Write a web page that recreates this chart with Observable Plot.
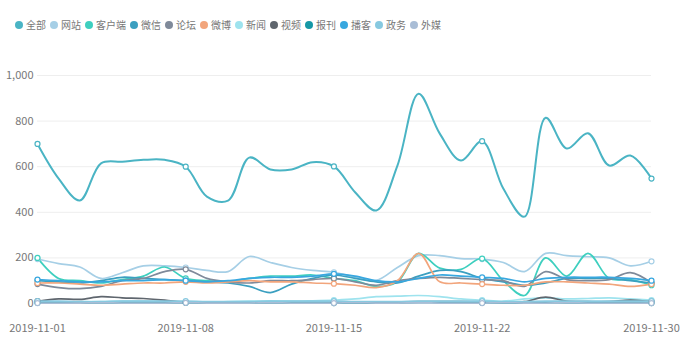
<!DOCTYPE html>
<html>
<head>
<meta charset="utf-8">
<script src="https://cdn.jsdelivr.net/npm/d3@7"></script>
<script src="https://cdn.jsdelivr.net/npm/@observablehq/plot@0.6"></script>
<style>
  body { margin: 0; background: #fff; width: 692px; height: 356px; overflow: hidden; }
  #legend { height: 35px; box-sizing: border-box; padding: 14px 0 0 15px; display: flex; font-family: "Noto Sans CJK SC", sans-serif; font-size: 10px; color: #777; line-height: 10px; }
  #legend .item { display: flex; align-items: center; margin-right: 4px; }
  #legend .sw { width: 8px; height: 8px; border-radius: 50%; margin-right: 3px; }
</style>
</head>
<body>
<div id="legend"></div>
<div id="chart"></div>
<script>
const dates = ["2019-11-01","2019-11-02","2019-11-03","2019-11-04","2019-11-05","2019-11-06","2019-11-07","2019-11-08","2019-11-09","2019-11-10",
  "2019-11-11","2019-11-12","2019-11-13","2019-11-14","2019-11-15","2019-11-16","2019-11-17","2019-11-18","2019-11-19","2019-11-20",
  "2019-11-21","2019-11-22","2019-11-23","2019-11-24","2019-11-25","2019-11-26","2019-11-27","2019-11-28","2019-11-29","2019-11-30"];
const xTicks = ["2019-11-01","2019-11-08","2019-11-15","2019-11-22","2019-11-30"];
const yTicks = [0, 200, 400, 600, 800, 1000];

const seriesNames = ["全部","网站","客户端","微信","论坛","微博","新闻","视频","报刊","播客","政务","外媒"];
const seriesColors = ["#4ab4c4","#a6cfe6","#3ecfbf","#3b9fc0","#7f8a9a","#f2a57c","#9ee3ee","#5f666e","#1598a6","#38a7df","#87c9e0","#a9bdd6"];

const quanbu   = [700,548,452,615,622,630,630,600,469,451,640,588,588,620,601,488,408,605,920,745,627,712,504,381,815,680,747,605,649,548];
const wangzhan = [195,175,160,110,135,165,165,158,145,140,206,180,158,145,137,115,101,158,210,210,197,195,180,140,220,210,205,200,165,185];
const kehuduan = [200,110,100,90,105,120,160,110,100,95,110,120,120,125,110,100,75,95,220,155,150,197,100,35,200,120,220,110,105,80];
const weixin   = [100,95,90,100,115,110,105,100,95,90,75,48,85,110,125,110,95,90,120,145,140,110,95,80,90,110,110,110,100,90];
const luntan   = [85,70,65,75,100,110,140,150,110,95,90,100,100,105,110,95,80,100,110,115,110,105,100,75,140,105,100,105,135,90];
const weibo    = [90,90,85,80,85,90,90,95,90,95,100,95,95,90,87,80,70,100,220,95,90,85,80,80,95,95,90,85,75,85];
const xinwen   = [5,5,8,8,10,10,8,5,5,8,10,12,10,12,15,20,30,32,35,30,20,15,10,20,25,20,22,25,20,15];
const shipin   = [10,20,18,30,25,22,15,5,5,6,6,5,5,6,5,5,6,6,8,8,8,6,6,8,28,10,8,8,15,8];
const baokan   = [3,3,2,3,3,4,3,3,2,2,3,3,3,3,2,2,2,3,5,4,3,3,2,2,4,3,3,3,3,2];
const boke     = [105,100,95,95,100,100,105,100,95,100,110,115,115,120,130,120,100,95,110,125,120,115,110,95,110,115,115,115,110,100];
const zhengwu  = [10,10,8,8,10,10,10,10,8,8,8,10,10,10,10,8,8,8,10,10,10,10,8,8,10,10,10,10,10,10];
const waimei   = [2,2,2,3,2,2,2,3,2,2,2,3,2,2,2,3,2,2,3,2,2,2,3,2,2,3,2,2,2,2];

const seriesValues = [quanbu, wangzhan, kehuduan, weixin, luntan, weibo, xinwen, shipin, baokan, boke, zhengwu, waimei];

const parse = d3.utcParse("%Y-%m-%d");
const tidy = [];
seriesNames.forEach((name, si) => {
  seriesValues[si].forEach((v, i) => tidy.push({series: name, order: si, date: parse(dates[i]), key: dates[i], value: v}));
});
const mainData = tidy.filter(d => d.order === 0);
const restData = tidy.filter(d => d.order !== 0);
const markers = restData.concat(mainData).filter(d => xTicks.includes(d.key));

const legend = document.getElementById("legend");
seriesNames.forEach((n, i) => {
  const it = document.createElement("div"); it.className = "item";
  const sw = document.createElement("div"); sw.className = "sw"; sw.style.background = seriesColors[i];
  const tx = document.createElement("span"); tx.textContent = n;
  it.appendChild(sw); it.appendChild(tx); legend.appendChild(it);
});

const chart = Plot.plot({
  width: 692,
  height: 321,
  marginTop: 40,
  marginBottom: 53,
  marginLeft: 37,
  marginRight: 41,
  style: { fontFamily: "'Noto Sans CJK SC', sans-serif", fontSize: "11px", color: "#777", background: "#fff" },
  x: { type: "utc", domain: [parse(dates[0]), parse(dates[dates.length - 1])], ticks: xTicks.map(parse), tickFormat: d3.utcFormat("%Y-%m-%d"), tickSize: 0, tickPadding: 21, label: null },
  y: { domain: [0, 1000], ticks: yTicks, tickFormat: d3.format(","), tickSize: 0, tickPadding: 4, label: null },
  color: { domain: seriesNames, range: seriesColors },
  marks: [
    Plot.gridY(yTicks, { stroke: "#eeeeee", strokeOpacity: 1 }),
    Plot.line(restData, { x: "date", y: "value", z: "series", stroke: "series", curve: "catmull-rom", strokeWidth: 1.7 }),
    Plot.line(mainData, { x: "date", y: "value", z: "series", stroke: "series", curve: "catmull-rom", strokeWidth: 2 }),
    Plot.dot(markers, { x: "date", y: "value", stroke: "series", fill: "#fff", r: 2.5, strokeWidth: 1.2 })
  ]
});
document.getElementById("chart").appendChild(chart);
</script>
</body>
</html>
